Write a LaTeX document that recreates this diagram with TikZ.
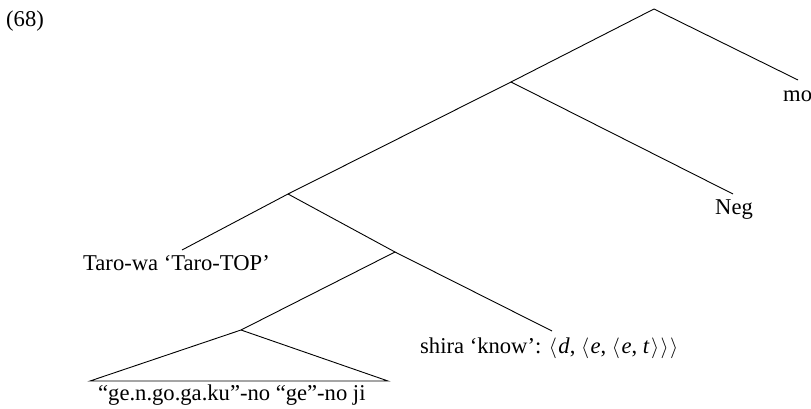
\documentclass[tikz,border=0pt]{standalone}
\usepackage{fontspec}
\setmainfont{Liberation Serif}
\newcommand{\la}{$\langle$\kern1.5pt}
\newcommand{\ra}{\kern1.5pt$\rangle$}
\begin{document}
\begin{tikzpicture}[x=1pt,y=-1pt,
  branch/.style={line width=0.9pt},
  leaf/.style={anchor=base west, inner sep=0pt, font=\fontsize{22.6}{27}\selectfont}]
\useasboundingbox (0,0) rectangle (811,409);
% tree junctions
\coordinate (root) at (654,9);
\coordinate (n1) at (511,82);
\coordinate (n2) at (288,194);
\coordinate (n3) at (395,252);
\coordinate (n4) at (241,330);
% branch ends
\coordinate (moEnd) at (798,80);
\coordinate (negEnd) at (733,194);
\coordinate (taroEnd) at (182,250);
\coordinate (shiraEnd) at (552,331);
\coordinate (triL) at (90,381);
\coordinate (triR) at (388,381);
% labels
\node[leaf] (ex) at (6,27) {(68)};
\node[leaf] (mo) at (783,102) {mo};
\node[leaf] (neg) at (715,214) {Neg};
\node[leaf] (taro) at (83,270) {Taro-wa ‘Taro-TOP’};
\node[leaf] (shira) at (420,353) {shira ‘know’: \la\textit{d}\/, \la\textit{e}\/, \la\textit{e}\/, \textit{t}\/\ra\ra\ra};
\node[leaf] (ji) at (98,400) {“ge.n.go.ga.ku”-no “ge”-no ji};
% branches
\draw[branch] (root) -- (moEnd);
\draw[branch] (root) -- (n1);
\draw[branch] (n1) -- (negEnd);
\draw[branch] (n1) -- (n2);
\draw[branch] (n2) -- (taroEnd);
\draw[branch] (n2) -- (n3);
\draw[branch] (n3) -- (shiraEnd);
\draw[branch] (n3) -- (n4);
\draw[branch] (n4) -- (triL) -- (triR) -- cycle;
\end{tikzpicture}
\end{document}
